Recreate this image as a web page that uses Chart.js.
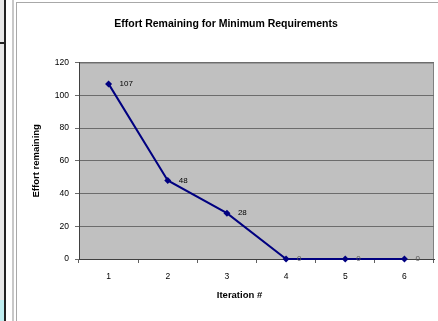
<!DOCTYPE html>
<html>
<head>
<meta charset="utf-8">
<script src="https://cdn.jsdelivr.net/npm/chart.js@4/dist/chart.umd.min.js"></script>
<style>
  html,body{margin:0;padding:0;background:#fff;width:438px;height:321px;overflow:hidden;}
  #strip{position:absolute;left:0;top:0;width:4px;height:321px;background:#e8e8e8;border-right:2px solid #222;}
  #hl1{position:absolute;left:0;top:42px;width:4px;height:2px;background:#222;}
  #cy{position:absolute;left:0;top:300px;width:4px;height:21px;background:#bfeef0;}
  #gl{position:absolute;left:12px;top:0;width:2px;height:321px;background:#c8c8c8;}
  #frame{position:absolute;left:16px;top:2px;width:430px;height:330px;border:1px solid #a8a8a8;box-sizing:border-box;background:#fff;}
  #wrap{position:absolute;left:17px;top:3px;width:421px;height:318px;}
</style>
</head>
<body>
<div id="strip"></div><div id="hl1"></div><div id="cy"></div><div id="gl"></div>
<div id="frame"></div>
<div id="wrap"><canvas id="c" width="421" height="318"></canvas></div>
<script>
const chartTitle = "Effort Remaining for Minimum Requirements";
const yTitle = "Effort remaining";
const xTitle = "Iteration #";
const iterations = ["1", "2", "3", "4", "5", "6"];
const effortRemaining = [107, 48, 28, 0, 0, 0];
const yTicks = [0, 20, 40, 60, 80, 100, 120];

const FONT = "'Liberation Sans', Arial, sans-serif";

const plotBg = {
  id: 'plotBg',
  beforeDraw(chart) {
    const {ctx, chartArea: a} = chart;
    ctx.save();
    ctx.fillStyle = '#c0c0c0';
    ctx.fillRect(a.left, a.top, a.right - a.left, a.bottom - a.top);
    ctx.strokeStyle = '#808080';
    ctx.lineWidth = 1;
    ctx.strokeRect(a.left + 0.5, a.top + 0.5, a.right - a.left - 1, a.bottom - a.top);
    ctx.restore();
  }
};

const labelsPlugin = {
  id: 'pointLabels',
  afterDatasetsDraw(chart) {
    const {ctx} = chart;
    const meta = chart.getDatasetMeta(0);
    ctx.save();
    ctx.font = "8px " + FONT;
    ctx.textAlign = 'left';
    ctx.textBaseline = 'middle';
    meta.data.forEach((pt, i) => {
      ctx.fillStyle = effortRemaining[i] === 0 ? '#555' : '#000';
      ctx.fillText(String(effortRemaining[i]), pt.x + 11, pt.y);
    });
    ctx.restore();
  }
};

const xTitlePlugin = {
  id: 'xTitle',
  afterDraw(chart) {
    const {ctx, chartArea: a} = chart;
    ctx.save();
    ctx.font = "bold 9.5px " + FONT;
    ctx.fillStyle = '#000';
    ctx.textAlign = 'center';
    ctx.textBaseline = 'middle';
    ctx.fillText(xTitle, (a.left + a.right) / 2 - 17, a.bottom + 36);
    ctx.restore();
  }
};

new Chart(document.getElementById('c'), {
  type: 'line',
  data: {
    labels: iterations,
    datasets: [{
      data: effortRemaining,
      borderColor: '#000080',
      backgroundColor: '#000080',
      borderWidth: 2,
      pointStyle: 'rectRot',
      pointRadius: 3.5,
      pointBorderWidth: 0,
      tension: 0,
      clip: false
    }]
  },
  options: {
    responsive: false,
    animation: false,
    devicePixelRatio: 1,
    layout: {padding: {left: 0, right: 3, top: 0, bottom: 0}},
    plugins: {
      legend: {display: false},
      tooltip: {enabled: false},
      title: {
        display: true,
        text: chartTitle,
        color: '#000',
        font: {family: FONT, size: 10.5, weight: 'bold'},
        padding: {top: 15, bottom: 32}
      }
    },
    scales: {
      x: {
        offset: true,
        grid: {display: true, drawOnChartArea: false, drawTicks: true, offset: true, tickLength: 4, color: '#606060'},
        border: {display: true, color: '#404040', width: 1},
        ticks: {color: '#000', font: {family: FONT, size: 8.5}, padding: 9, maxRotation: 0},
        afterFit(s) { s.height = 62; }
      },
      y: {
        min: 0, max: 120,
        afterBuildTicks(s) { s.ticks = yTicks.map(v => ({value: v})); },
        grid: {color: '#6c6c6c', tickLength: 4, drawTicks: true},
        border: {display: true, color: '#404040', width: 1},
        ticks: {color: '#000', font: {family: FONT, size: 8.5}, padding: 6},
        title: {display: true, text: yTitle, color: '#000', font: {family: FONT, size: 9.5, weight: 'bold'}, padding: {top: 14, bottom: 0}},
        afterFit(s) { s.width = 62; }
      }
    }
  },
  plugins: [plotBg, labelsPlugin, xTitlePlugin]
});
</script>
</body>
</html>
